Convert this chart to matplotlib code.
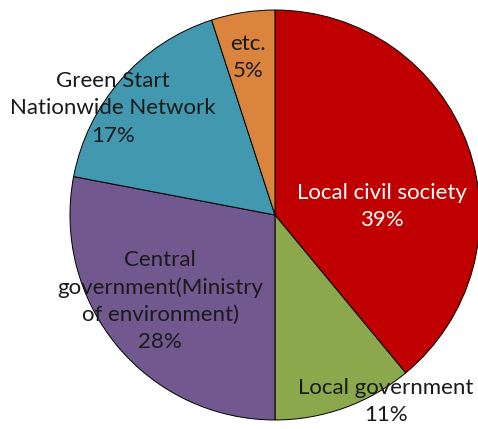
import matplotlib
matplotlib.use('Agg')
import matplotlib.pyplot as plt

labels = ['Local civil society', 'Local government',
          'Central\ngovernment(Ministry\nof environment)',
          'Green Start\nNationwide Network', 'etc.']
shares = [39, 11, 28, 17, 5]
colors = ['#C00000', '#8BA84C', '#71588F', '#4198AF', '#DB843D']
text_colors = ['white', '#1a1a1a', '#1a1a1a', '#1a1a1a', '#1a1a1a']
# label positions in pie units (radius = 1)
label_pos = [(0.52, 0.04), (0.54, -0.91), (-0.56, -0.42), (-0.79, 0.52), (-0.13, 0.77)]

fig = plt.figure(figsize=(4.78, 4.29), dpi=100)
ax = fig.add_axes([0.1464, 0.021, 0.8577, 0.9557])
ax.pie(shares, colors=colors, startangle=90, counterclock=False,
       wedgeprops=dict(edgecolor='black', linewidth=0.7))
ax.set_xlim(-1, 1)
ax.set_ylim(-1, 1)
ax.set_aspect('equal')

for lab, val, (x, y), tc in zip(labels, shares, label_pos, text_colors):
    ax.text(x, y, '%s\n%d%%' % (lab, val), ha='center', va='center',
            color=tc, fontsize=16, family='Lato', linespacing=1.45)

fig.savefig('out.png', dpi=100)
